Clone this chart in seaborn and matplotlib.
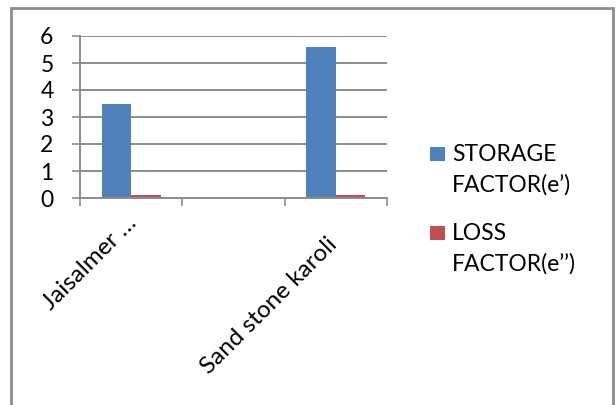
import matplotlib
matplotlib.use("Agg")
import matplotlib.pyplot as plt
import matplotlib.patches as mpatches
import matplotlib.transforms as mtransforms
import seaborn as sns
import pandas as pd

# Samples (the middle slot is an empty category)
categories = ["Jaisalmer \u2026", "", "Sand stone karoli"]
storage_factor = [3.5, None, 5.6]
loss_factor = [0.1, None, 0.1]
series_names = ["STORAGE\nFACTOR(e\u2019)", "LOSS\nFACTOR(e\u2019\u2019)"]
y_ticks = [0, 1, 2, 3, 4, 5, 6]

BLUE = "#4F81BD"
RED = "#C0504D"
GREY = "#8C8C8C"
FS = 16.5
FS_X = 17.5

sns.set_theme(style="white")
plt.rcParams["font.family"] = ["Lato", "DejaVu Sans"]

rows = []
for cat, s, l in zip(categories, storage_factor, loss_factor):
    rows.append({"sample": cat, "series": series_names[0], "value": s})
    rows.append({"sample": cat, "series": series_names[1], "value": l})
df = pd.DataFrame(rows).dropna()

W, H = 616, 405
fig = plt.figure(figsize=(W / 100, H / 100), dpi=100)
ax = fig.add_axes([80 / W, 1 - 198 / H, (387 - 80) / W, (198 - 36) / H])

sns.barplot(data=df, x="sample", y="value", hue="series", order=categories,
            hue_order=series_names, palette=[BLUE, RED], width=0.575, gap=0,
            ax=ax, legend=False, linewidth=0, saturation=1)

ax.set_xlim(-0.5, len(categories) - 0.5)
ax.set_ylim(0, 6)
ax.set_yticks(y_ticks)
ax.set_yticklabels([str(t) for t in y_ticks], fontsize=FS, color="black")
ax.yaxis.grid(True, color=GREY, linewidth=1.4)
ax.set_axisbelow(True)
ax.tick_params(axis="y", which="major", length=6, width=1.2, color=GREY,
               pad=13, left=True)

ax.set_xticks(range(len(categories)))
ax.set_xticklabels(categories, rotation=45, ha="right", rotation_mode="anchor",
                   fontsize=FS_X, color="black")
ax.set_xticks([i - 0.5 for i in range(len(categories) + 1)], minor=True)
ax.tick_params(axis="x", which="major", length=0, pad=26)
ax.tick_params(axis="x", which="minor", length=5.5, width=1.2, color=GREY,
               bottom=True)
ax.set_xlabel("")
ax.set_ylabel("")

# nudge the diagonal labels; the shortened first one sits further up
offsets = [(-5, 22), (-10, 0), (-10, 0)]
for lbl, (dx, dy) in zip(ax.get_xticklabels(), offsets):
    lbl.set_transform(lbl.get_transform() +
                      mtransforms.ScaledTranslation(dx / 100, dy / 100, fig.dpi_scale_trans))

for side in ("top", "right"):
    ax.spines[side].set_visible(False)
for side in ("left", "bottom"):
    ax.spines[side].set_color(GREY)
    ax.spines[side].set_linewidth(1.4)

# Legend: colour square beside the first line of each two-line label
legend_rows = [(series_names[0], BLUE, 147), (series_names[1], RED, 226)]
for label, color, top in legend_rows:
    fig.patches.append(mpatches.Rectangle((430 / W, 1 - (top + 14) / H), 15 / W, 14 / H,
                                          transform=fig.transFigure, facecolor=color,
                                          edgecolor="none"))
    fig.text(452 / W, 1 - (top - 3) / H, label, fontsize=FS, va="top", ha="left",
             linespacing=1.52, color="black")

# Chart-area frame
fig.patches.append(mpatches.Rectangle((11 / W, -0.1), (613 - 11) / W, 1.1 - 8 / H,
                                      transform=fig.transFigure, fill=False,
                                      edgecolor=GREY, linewidth=2))

fig.savefig("out.png", dpi=100)
